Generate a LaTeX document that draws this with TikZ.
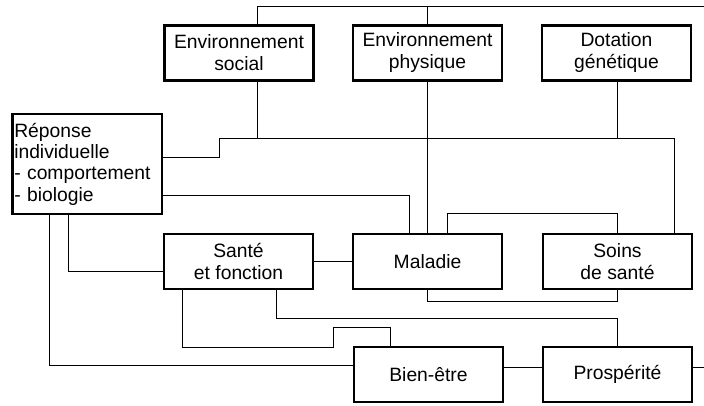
\documentclass[tikz,border=0pt]{standalone}
\usepackage{fontspec}
\setmainfont{Liberation Sans}
\begin{document}
\begin{tikzpicture}[x=1pt,y=1pt,
  box/.style={draw, line width=2.5pt, minimum width=149pt, minimum height=55pt,
    align=center, font=\fontsize{19.3}{22}\selectfont, inner sep=2pt},
  conn/.style={line width=0.8pt}]
\useasboundingbox (0,0) rectangle (704,405);
% boxes
\node[box] (ES) at (239,352) {Environnement\\social};
\node[box] (EP) at (427.5,352) {Environnement\\physique};
\node[box] (DG) at (616.5,352) {Dotation\\génétique};
\node[box, align=left, text width=145.5pt, minimum height=99.5pt,
  font=\fontsize{19.3}{21.3}\selectfont] (R) at (87,241)
  {Réponse\\individuelle\\- comportement\\- biologie};
\node[box] (SF) at (238.5,143.5) {Santé\\et fonction};
\node[box] (M) at (427.5,143.5) {Maladie};
\node[box] (S) at (617.5,143.5) {Soins\\de santé};
\node[box] (B) at (428.5,30.5) {Bien-être};
\node[box] (P) at (617.5,30.5) {Prospérité};
% helper coordinates
\coordinate (tr) at (704,399);
\coordinate (j1) at (219,267);
\coordinate (pr) at (704,38);
\coordinate (k1) at (333,58);
\coordinate (k2) at (333,78);
% connectors
\draw[conn] ([xshift=18]ES.north) |- (tr);
\draw[conn] (EP.north) -- (EP.north |- tr);
\draw[conn] ([xshift=18]ES.south) -- ([xshift=18]ES.south |- j1);
\draw[conn] ([xshift=0.5]DG.south) -- ([xshift=0.5]DG.south |- j1);
\draw[conn] ([yshift=7]R.east) -| (j1) -| ([xshift=56.5]S.north);
\draw[conn] ([yshift=-31]R.east) -| ([xshift=-18.5]M.north);
\draw[conn] (EP.south) -- (M.north);
\draw[conn] ([xshift=19.5]M.north) -- ++(0,19) -| (S.north);
\draw[conn] (M.south) -- ++(0,-11) -| (S.south);
\draw[conn] (SF.east) -- (M.west);
\draw[conn] ([xshift=-19]R.south) |- ([yshift=-9.5]SF.west);
\draw[conn] ([xshift=-38]R.south) |- ([yshift=9.5]B.west);
\draw[conn] ([xshift=-56.5]SF.south) |- (k1) -- (k2) -| ([xshift=-38.5]B.north);
\draw[conn] ([xshift=37.5]SF.south) -- ++(0,-28) -| (P.north);
\draw[conn] ([yshift=7.5]B.east) -- ([yshift=7.5]P.west);
\draw[conn] ([yshift=7.5]P.east) -- (pr);
\end{tikzpicture}
\end{document}
